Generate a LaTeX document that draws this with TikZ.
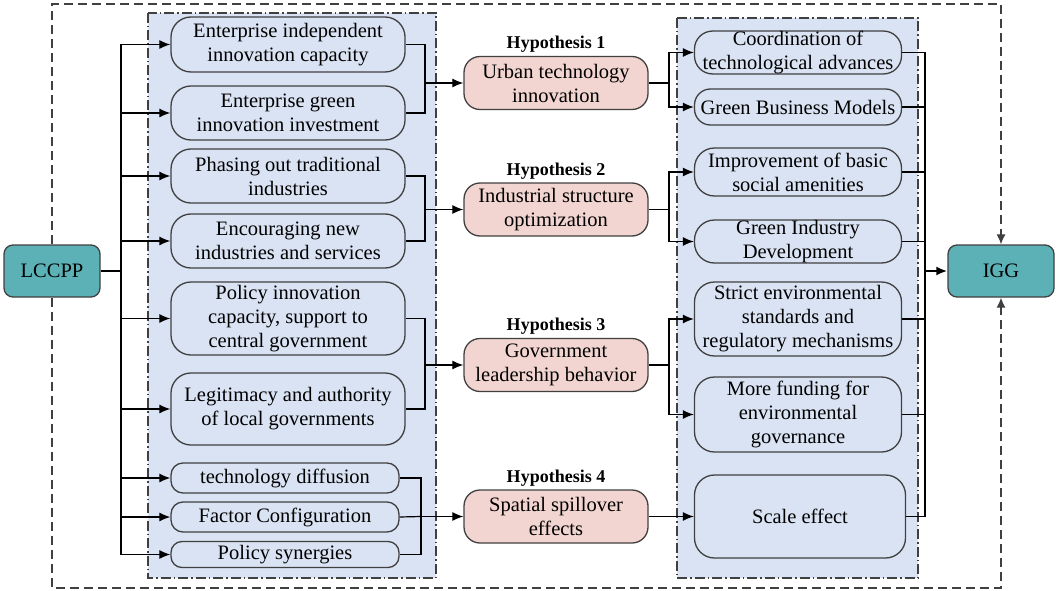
\documentclass[tikz,border=0pt]{standalone}
\usepackage{fontspec}
\setmainfont{Liberation Serif}
\usetikzlibrary{arrows.meta,positioning}
\definecolor{tealbox}{RGB}{91,177,181}
\definecolor{palepink}{RGB}{242,213,208}
\definecolor{paleblue}{RGB}{218,227,243}
\definecolor{edgegray}{RGB}{64,64,64}

\begin{document}
\begin{tikzpicture}[x=1pt,y=-1pt,font=\rmfamily\fontsize{20.5}{24}\selectfont,
		>={Latex[length=11pt,width=9pt]},
		mainbox/.style={draw=edgegray,fill=tealbox,line width=1.3,rounded corners=9,inner sep=0,minimum height=52},
		itembox/.style={draw=edgegray,fill=paleblue,line width=1.3,rounded corners=20,inner sep=0,align=center,minimum width=234},
		thinbox/.style={itembox,rounded corners=12,minimum width=228},
		hypbox/.style={draw=edgegray,fill=palepink,line width=1.3,rounded corners=16,inner sep=0,align=center,minimum width=184,minimum height=53},
		effectbox/.style={itembox,minimum width=207},
		hyplabel/.style={font=\rmfamily\fontsize{18}{20}\selectfont\bfseries,inner sep=1pt},
		panel/.style={fill=paleblue,draw=edgegray,line width=1.3,dash pattern=on 10pt off 3pt on 1.5pt off 3pt},
		outer/.style={draw=edgegray,line width=1.3,dash pattern=on 9pt off 5pt},
		link/.style={line width=1.2}]
	\useasboundingbox (0,0) rectangle (1059,591);
	\draw[panel] (148,13) rectangle (436,578);
	\draw[panel] (677,18) rectangle (918,578);

	\node[mainbox,minimum width=96] (lccpp) at (52,271) {LCCPP};
	\node[mainbox,minimum width=106] (igg) at (1001,271) {IGG};

	\node[itembox,minimum height=55] (a1) at (288,44.5) {Enterprise independent\\innovation capacity};
	\node[itembox,minimum height=54] (a2) at (288,113) {Enterprise green\\innovation investment};
	\node[itembox,minimum height=54] (a3) at (288,176) {Phasing out traditional\\industries};
	\node[itembox,minimum height=54] (a4) at (288,241) {Encouraging new\\industries and services};
	\node[itembox,minimum height=73] (a5) at (288,318.5) {Policy innovation\\capacity, support to\\central government};
	\node[itembox,minimum height=72] (a6) at (288,409) {Legitimacy and authority\\of local governments};
	\node[thinbox,minimum height=30] (a7) at (285,478) {technology diffusion};
	\node[thinbox,minimum height=30] (a8) at (285,517) {Factor Configuration};
	\node[thinbox,minimum height=26,rounded corners=11] (a9) at (285,554.5) {Policy synergies};

	\node[hypbox] (h1) at (556,83) {Urban technology\\innovation};
	\node[hypbox] (h2) at (556,209.5) {Industrial structure\\optimization};
	\node[hypbox] (h3) at (556,365) {Government\\leadership behavior};
	\node[hypbox] (h4) at (556,516.5) {Spatial spillover\\effects};
	\node[hyplabel,above=2pt of h1] (t1) {Hypothesis 1};
	\node[hyplabel,above=2pt of h2] (t2) {Hypothesis 2};
	\node[hyplabel,above=2pt of h3] (t3) {Hypothesis 3};
	\node[hyplabel,above=2pt of h4] (t4) {Hypothesis 4};

	\node[effectbox,minimum height=39,rounded corners=18] (r1) at (798,52.5) {Coordination of\\technological advances};
	\node[effectbox,minimum height=36,rounded corners=16] (r2) at (798,107) {Green Business Models};
	\node[effectbox,minimum height=48] (r3) at (798,172) {Improvement of basic\\social amenities};
	\node[effectbox,minimum height=43] (r4) at (798,241.5) {Green Industry\\Development};
	\node[effectbox,minimum height=74] (r5) at (798,319) {Strict environmental\\standards and\\regulatory mechanisms};
	\node[effectbox,minimum height=75] (r6) at (798,414.5) {More funding for\\environmental\\governance};
	\node[effectbox,minimum width=211,minimum height=83] (r7) at (800,516.5) {Scale effect};

	\coordinate (trunk) at (121,271);
	\draw[line width=2.5] (lccpp.east) -- (trunk);
	\draw[line width=1.6] (trunk |- a1.west) -- (trunk |- a9.west);
	\foreach \n in {1,...,9}
		\draw[link,->] (trunk |- a\n.west) -- (a\n.west);

	\coordinate (j1) at (425,83);
	\coordinate (j2) at (425,209.5);
	\coordinate (j3) at (425,365);
	\coordinate (j4) at (421,516.5);
	\draw[link] (a1.east) -| (j1) |- (a2.east);
	\draw[link] (a3.east) -| (j2) |- (a4.east);
	\draw[link] (a5.east) -| (j3) |- (a6.east);
	\draw[link] (a7.east) -| (j4) |- (a9.east);
	\draw[link] (a8.east) -- (j4);
	\foreach \n in {1,...,4}
		\draw[link,->] (j\n) -- (h\n.west);

	\coordinate (s1) at (669,83);
	\coordinate (s2) at (669,209.5);
	\coordinate (s3) at (669,365);
	\draw[link] (h1.east) -- (s1);
	\draw[link] (h2.east) -- (s2);
	\draw[link] (h3.east) -- (s3);
	\draw[link,->] (s1) |- (r1.west);
	\draw[link,->] (s1) |- (r2.west);
	\draw[link,->] (s2) |- (r3.west);
	\draw[link,->] (s2) |- (r4.west);
	\draw[link,->] (s3) |- (r5.west);
	\draw[link,->] (s3) |- (r6.west);
	\draw[link,->] (h4.east) -- (r7.west);

	\coordinate (rtrunk) at (925,271);
	\foreach \n in {1,...,7}
		\draw[link] (r\n.east) -- (rtrunk |- r\n.east);
	\draw[link] (rtrunk |- r1.east) -- (rtrunk |- r7.east);
	\draw[line width=2.5,->] (rtrunk) -- (igg.west);

	\coordinate (topline) at (0,4);
	\coordinate (bottomline) at (0,588);
	\coordinate (tipin) at (0,233);
	\coordinate (tipout) at (0,309);
	\draw[outer] (lccpp.north) -- (lccpp.north |- topline) -- (igg.north |- topline) -- (igg.north |- tipin);
	\draw[outer] (lccpp.south) -- (lccpp.south |- bottomline) -- (igg.south |- bottomline) -- (igg.south |- tipout);
	\draw[link,draw=edgegray,-{Latex[length=10pt,width=9pt]}] (igg.north |- tipin) -- (igg.north);
	\draw[link,draw=edgegray,-{Latex[length=10pt,width=9pt]}] (igg.south |- tipout) -- (igg.south);
\end{tikzpicture}
\end{document}
